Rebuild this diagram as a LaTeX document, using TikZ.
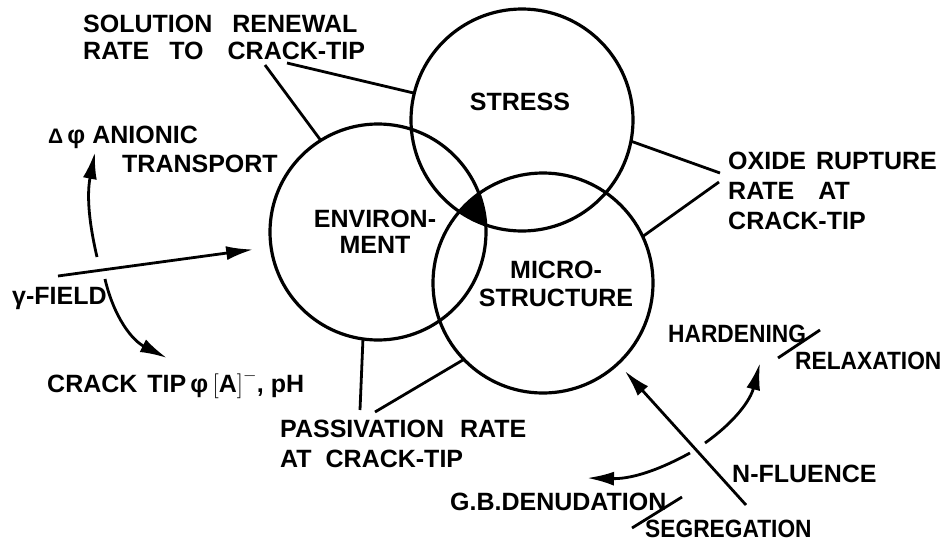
\documentclass[tikz,border=0pt]{standalone}
\usepackage{fontspec}
\setmainfont{Liberation Sans}
\newfontfamily\narrowfont{Liberation Sans}[FakeStretch=0.91]
\usetikzlibrary{arrows.meta, positioning}

\begin{document}
\begin{tikzpicture}[
    x=1pt, y=-1pt,
    ring/.style={circle, draw, line width=3.2pt, inner sep=0pt, outer sep=0pt, minimum size=#1},
    lbl/.style={inner sep=0pt, anchor=north west, align=left, font=\fontsize{25}{27}\selectfont\bfseries},
    narrow/.style={lbl, font=\fontsize{25}{27}\selectfont\narrowfont\bfseries},
    inlbl/.style={inner sep=0pt, align=center, font=\fontsize{25}{26}\selectfont\bfseries},
    lead/.style={line width=2.8pt},
    arrow/.style={-{Latex[length=27pt,width=14pt]}, line width=2.8pt}
]
\useasboundingbox (0,0) rectangle (951,544);

% The three circles
\node[ring=222pt] (stress) at (522,120) {};
\node[ring=216pt] (env) at (378,232) {};
\node[ring=220pt] (micro) at (543,283) {};

% Common region
\begin{scope}
  \clip (522,120) circle[radius=111pt];
  \clip (378,232) circle[radius=108pt];
  \fill (543,283) circle[radius=110pt];
\end{scope}

% Circle texts
\node[inlbl] (stresstxt) at (520,102) {STRESS};
\node[inlbl] (envtxt) at (375,232) {ENVIRON-\\MENT};
\node[inlbl, font=\fontsize{25}{28}\selectfont\bfseries] (microtxt) at (556,284) {MICRO-\\STRUCTURE};

% Labels
\node[lbl] (renewal) at (83,15)
  {SOLUTION\hspace{20pt}RENEWAL\\RATE\hspace{20pt}TO\hspace{24pt}CRACK-TIP};
\node[lbl] (anionic) at (48,126) {{\fontsize{21}{21}\selectfont Δ}\,φ ANIONIC};
\node[lbl] (transport) at (122,155) {TRANSPORT};
\node[lbl] (field) at (12,287) {γ-FIELD};
\node[lbl] (cracktip) at (47,370) {CRACK\hspace{10pt}TIP\,φ\,$\bigl[\mbox{A}\bigr]^{-}$, pH};
\node[lbl, font=\fontsize{25}{30}\selectfont\bfseries] (passivation) at (280,420)
  {PASSIVATION\hspace{16pt}RATE\\AT\hspace{14pt}CRACK-TIP};
\node[lbl, font=\fontsize{25}{30}\selectfont\bfseries] (oxide) at (728,152)
  {OXIDE\hspace{10pt}RUPTURE\\RATE\hspace{24pt}AT\\CRACK-TIP};
\node[narrow] (hardening) at (668,325) {HARDENING};
\node[narrow] (relaxation) at (795,352) {RELAXATION};
\node[lbl] (fluence) at (732,465) {N-FLUENCE};
\node[lbl] (denudation) at (450,493) {G.B.DENUDATION};
\node[narrow] (segregation) at (645,520) {SEGREGATION};

% Leader ends
\coordinate (renewalA) at (265,65);
\coordinate (renewalB) at (287,63);
\coordinate (oxideA) at (720,173);
\coordinate (oxideB) at (719,182);
\coordinate (passA) at (360,410);
\coordinate (passB) at (375,412);

% Leaders
\draw[lead] (renewalA) -- (env.122);
\draw[lead] (renewalB) -- (stress.166);
\draw[lead] (oxideA) -- (stress.-11);
\draw[lead] (oxideB) -- (micro.25);
\draw[lead] (passA) -- (env.262);
\draw[lead] (passB) -- (micro.224);

% Arrow ends
\coordinate (fieldR) at (58,276);
\coordinate (fieldU) at (97,257);
\coordinate (anionTip) at (95,152);
\coordinate (fieldD) at (105,279);
\coordinate (crackTip) at (167,358);
\coordinate (fluenceS) at (746,505);
\coordinate (fluenceA) at (705,443);
\coordinate (hardTip) at (760,363);
\coordinate (fluenceB) at (690,453);
\coordinate (gbTip) at (587,478);

% Arrows
\draw[arrow, shorten >=18pt] (fieldR) -- (env.188);
\draw[arrow] (fieldU) to[bend left=12] (anionTip);
\draw[arrow] (fieldD) to[bend right=25] (crackTip);
\draw[arrow, shorten >=10pt] (fluenceS) -- (micro.-47);
\draw[arrow] (fluenceA) to[bend right=20] (hardTip);
\draw[arrow] (fluenceB) to[bend left=15] (gbTip);

% Slashes
\draw[lead] (778,358) -- (820,330);
\draw[lead] (632,528) -- (682,497);

\end{tikzpicture}
\end{document}
